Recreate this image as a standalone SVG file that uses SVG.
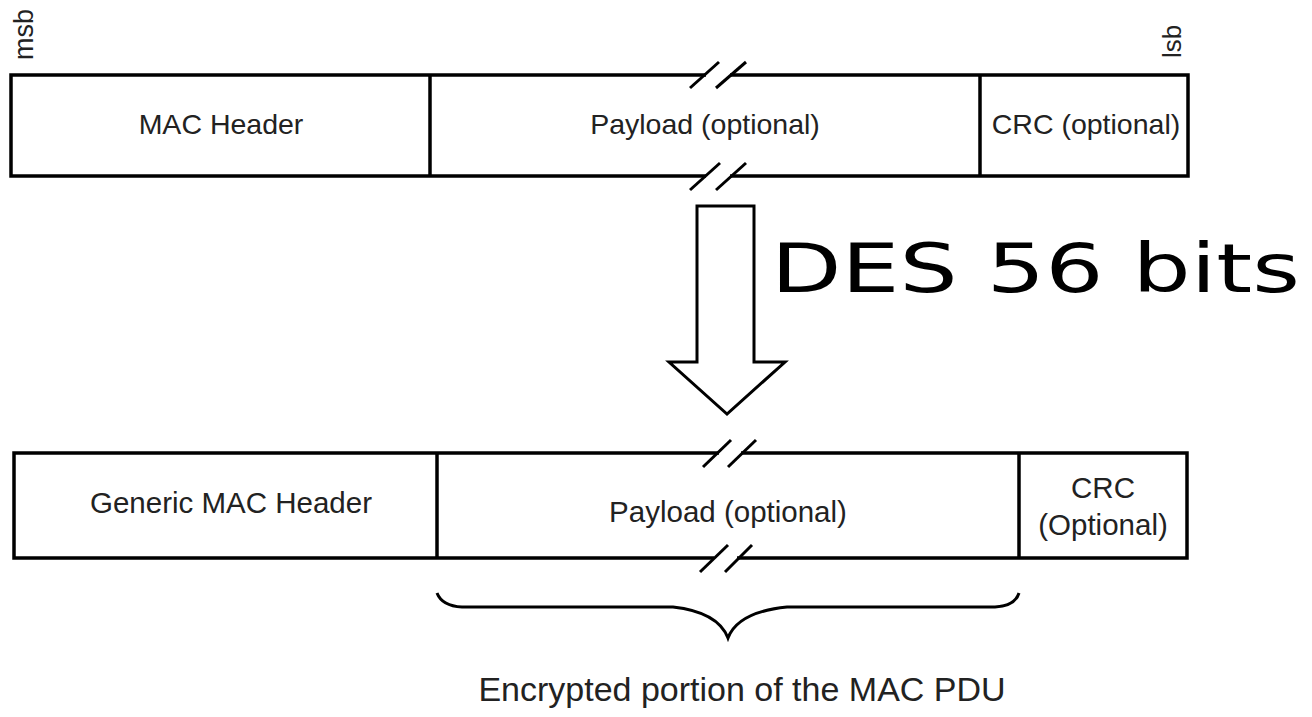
<svg xmlns="http://www.w3.org/2000/svg" width="1312" height="717" viewBox="0 0 1312 717">
<style>
.box{fill:#fff;stroke:#000;stroke-width:3.5}
.ln{stroke:#000;stroke-width:3.5;fill:none}
.sl{stroke:#000;stroke-width:3;fill:none}
.gap{stroke:#fff;stroke-width:6}
.t{font-family:"Liberation Sans",Arial,sans-serif;font-size:28.5px;fill:#222}
.b{font-size:29.5px}
.c{text-anchor:middle}
</style>
<rect width="1312" height="717" fill="#fff"/>
<g id="labels">
<text class="t" style="font-size:27px" transform="translate(33,60) rotate(-90)">msb</text>
<text class="t" style="font-size:26px" transform="translate(1181,58) rotate(-90)">lsb</text>
</g>
<g id="top-frame">
<rect class="box" x="11" y="75" width="1177" height="101"/>
<line class="ln" x1="430" y1="75" x2="430" y2="176"/>
<line class="ln" x1="980" y1="75" x2="980" y2="176"/>
<line class="gap" x1="706" y1="75" x2="730" y2="75"/>
<line class="gap" x1="706" y1="176" x2="730" y2="176"/>
<line class="sl" x1="690" y1="88" x2="719" y2="62"/>
<line class="sl" x1="716" y1="88" x2="746" y2="62"/>
<line class="sl" x1="690" y1="190" x2="720" y2="163"/>
<line class="sl" x1="716" y1="190" x2="746" y2="163"/>
<text class="t c" x="221" y="134">MAC Header</text>
<text class="t c" x="705" y="134">Payload (optional)</text>
<text class="t c" x="1086" y="134">CRC (optional)</text>
</g>
<g id="arrow">
<polygon points="697,206 754,206 754,362 785,362 727,414 669,362 697,362" fill="#fff" stroke="#000" stroke-width="3"/>
</g>
<g id="des">
<text x="771" y="292" font-family="'Comic Sans MS','DejaVu Sans',sans-serif" font-size="68" textLength="529" lengthAdjust="spacingAndGlyphs" fill="#000">DES 56 bits</text>
</g>
<g id="bottom-frame">
<rect class="box" x="14" y="453" width="1173" height="105"/>
<line class="ln" x1="437" y1="453" x2="437" y2="558"/>
<line class="ln" x1="1019" y1="453" x2="1019" y2="558"/>
<line class="gap" x1="719" y1="453" x2="741" y2="453"/>
<line class="gap" x1="714" y1="558" x2="737" y2="558"/>
<line class="sl" x1="703" y1="467" x2="731" y2="440"/>
<line class="sl" x1="728" y1="467" x2="756" y2="440"/>
<line class="sl" x1="700" y1="572" x2="728" y2="545"/>
<line class="sl" x1="725" y1="572" x2="752" y2="545"/>
<text class="t b c" x="231" y="513">Generic MAC Header</text>
<text class="t b c" x="728" y="522">Payload (optional)</text>
<text class="t b c" x="1103" y="498">CRC</text>
<text class="t b c" x="1103" y="535">(Optional)</text>
</g>
<g id="brace">
<path class="sl" d="M437,593 Q442,606 462,607 L673,607 Q718,612 728,638 Q738,612 787,607 L995,607 Q1015,606 1019,593"/>
<text class="t c" style="font-size:34px" x="742" y="701">Encrypted portion of the MAC PDU</text>
</g>
</svg>
